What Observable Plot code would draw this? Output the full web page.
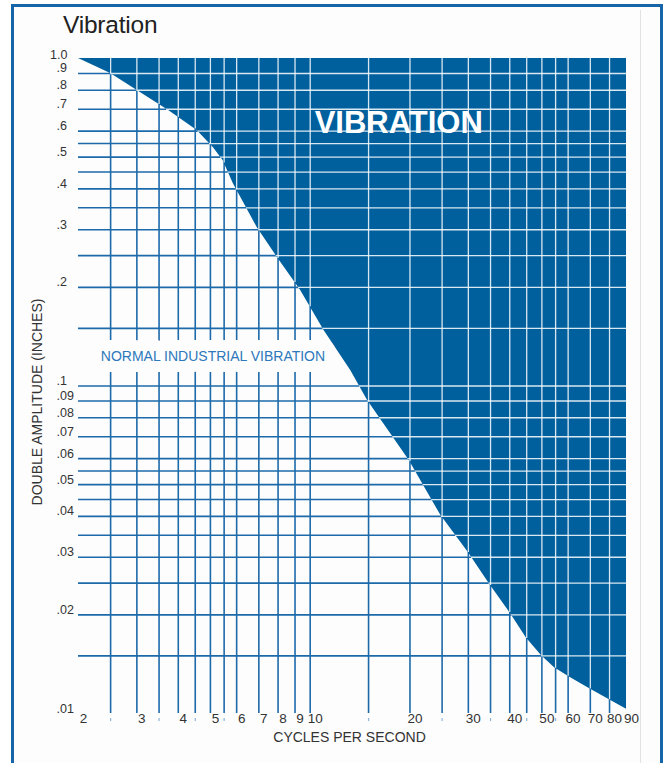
<!DOCTYPE html>
<html>
<head>
<meta charset="utf-8">
<script src="https://cdn.jsdelivr.net/npm/d3@7"></script>
<script src="https://cdn.jsdelivr.net/npm/@observablehq/plot@0.6"></script>
<style>
  html, body { margin: 0; padding: 0; background: #ffffff; }
  body { width: 665px; height: 763px; position: relative; overflow: hidden; font-family: "Liberation Sans", Arial, Helvetica, sans-serif; }
  #frame { position: absolute; left: 11px; top: 4px; width: 646px; height: 800px; border: 3px solid #1565a8; border-bottom: none; background: #fdfdfd; }
  #edge { position: absolute; left: 640px; top: 10px; width: 1px; height: 760px; background: #e2e2e2; }
  #title { position: absolute; left: 63px; top: 11px; font-size: 24.5px; color: #222; letter-spacing: -0.2px; }
  #chart { position: absolute; left: 0; top: 0; }
</style>
</head>
<body>
<div id="frame"></div>
<div id="edge"></div>
<div id="title">Vibration</div>
<div id="chart"></div>
<script>
// Boundary curve between normal and excessive vibration
const freq = [2, 2.5, 3, 3.77, 4.56, 5.1, 5.46, 5.86, 6.92, 7.96, 9.35, 11, 13.25, 14.9, 19.9, 24.8, 30, 34.7, 40.2, 44.9, 49.9, 54.6, 60.7, 69.7, 80.2, 90];
const amplitude = [1.0, 0.9, 0.8, 0.69, 0.603, 0.535, 0.488, 0.415, 0.305, 0.247, 0.196, 0.148, 0.1115, 0.0903, 0.0592, 0.0402, 0.031, 0.0249, 0.0202, 0.017, 0.015, 0.0138, 0.0129, 0.0119, 0.011, 0.0103];

// Grid and tick values
const hGrid = [0.9, 0.8, 0.7, 0.6, 0.55, 0.5, 0.45, 0.4, 0.35, 0.3, 0.25, 0.2, 0.15, 0.1, 0.09, 0.08, 0.07, 0.06, 0.055, 0.05, 0.045, 0.04, 0.035, 0.03, 0.025, 0.02, 0.015];
const vGrid = [2.5, 3, 3.5, 4, 4.5, 5, 5.5, 6, 7, 8, 9, 10, 15, 20, 25, 30, 35, 40, 45, 50, 55, 60, 70, 80];
const xTicks = [2, 3, 4, 5, 6, 7, 8, 9, 10, 20, 30, 40, 50, 60, 70, 80, 90];
const halfTicks = [2.5, 3.5, 4.5, 5.5, 15, 25, 35, 45, 55];
const yTicks = [0.9, 0.8, 0.7, 0.6, 0.5, 0.4, 0.3, 0.2, 0.1, 0.09, 0.08, 0.07, 0.06, 0.05, 0.04, 0.03, 0.02, 0.01];
const yTop = [1.0];

const curve = freq.map((f, i) => ({f, a: amplitude[i]}));

// log-log interpolation along the boundary (matches linear segments on log scales)
function ampAt(f) {
  for (let i = 0; i < freq.length - 1; i++) {
    if (f >= freq[i] && f <= freq[i + 1]) {
      const t = (Math.log(f) - Math.log(freq[i])) / (Math.log(freq[i + 1]) - Math.log(freq[i]));
      return Math.exp(Math.log(amplitude[i]) + t * (Math.log(amplitude[i + 1]) - Math.log(amplitude[i])));
    }
  }
  return amplitude[amplitude.length - 1];
}
function freqAt(a) {
  for (let i = 0; i < amplitude.length - 1; i++) {
    if (a <= amplitude[i] && a >= amplitude[i + 1]) {
      const t = (Math.log(a) - Math.log(amplitude[i])) / (Math.log(amplitude[i + 1]) - Math.log(amplitude[i]));
      return Math.exp(Math.log(freq[i]) + t * (Math.log(freq[i + 1]) - Math.log(freq[i])));
    }
  }
  return freq[freq.length - 1];
}

const dark = "#00609e";
const gridBlue = "#1d6aaa";
const fmtY = d => String(d).replace(/^0/, "");

const plot = Plot.plot({
  width: 665,
  height: 763,
  marginTop: 58,
  marginBottom: 50,
  marginLeft: 78,
  marginRight: 39,
  style: {fontFamily: "'Liberation Sans', Arial, Helvetica, sans-serif", background: "transparent", color: "#333"},
  x: {type: "log", domain: [2, 90], axis: null},
  y: {type: "log", domain: [0.01, 1], axis: null},
  marks: [
    // blue grid in the normal region
    Plot.ruleY(hGrid, {stroke: gridBlue, strokeWidth: 1.6}),
    Plot.ruleX(vGrid, {stroke: gridBlue, strokeWidth: 1.6}),
    // excessive-vibration region
    Plot.areaY(curve, {x: "f", y1: "a", y2: () => 1, fill: dark, curve: "linear"}),
    // white grid inside the dark region
    Plot.ruleY(hGrid, {y: d => d, x1: d => freqAt(d), x2: () => 90, stroke: "#ffffff", strokeOpacity: 0.85, strokeWidth: 1.3}),
    Plot.ruleX(vGrid, {x: d => d, y1: d => ampAt(d), y2: () => 1, stroke: "#ffffff", strokeOpacity: 0.85, strokeWidth: 1.3}),
    // labels inside plot
    Plot.text(["VIBRATION"], {x: () => 18.5, y: () => 0.637, text: d => d, fill: "#ffffff", fontSize: 31, fontWeight: "bold", textAnchor: "middle"}),
    Plot.text(["NORMAL INDUSTRIAL VIBRATION"], {x: () => 5.09, y: () => 0.123, text: d => d, fill: "#2c78bb", stroke: "#fdfdfd", strokeWidth: 22, paintOrder: "stroke", fontSize: 14, textAnchor: "middle"}),
    // tick labels
    Plot.text(xTicks, {x: d => d, frameAnchor: "bottom", text: d => String(d), dx: 5, dy: 9, fontSize: 13.5, fill: "#333"}),
    Plot.ruleX(halfTicks, {x: d => d, y1: () => 0.01, y2: () => 0.01, insetBottom: -3, dy: 5, stroke: "#8fb3d6", strokeWidth: 1.2}),
    Plot.text(yTicks, {y: d => d, frameAnchor: "left", text: fmtY, textAnchor: "start", dx: -22, dy: -5, fontSize: 12.5, fill: "#333"}),
    Plot.text(yTop, {y: d => d, frameAnchor: "left", text: () => "1.0", textAnchor: "end", dx: -11, dy: -4, fontSize: 12.5, fill: "#333"}),
    // axis titles
    Plot.text(["CYCLES PER SECOND"], {frameAnchor: "bottom", text: d => d, dy: 28, fontSize: 14, fill: "#333", textAnchor: "middle", dx: -3}),
    Plot.text(["DOUBLE AMPLITUDE (INCHES)"], {frameAnchor: "left", text: d => d, rotate: -90, dx: -41, dy: 16, fontSize: 14, fill: "#333", textAnchor: "middle"})
  ]
});
document.getElementById("chart").appendChild(plot);
</script>
</body>
</html>
